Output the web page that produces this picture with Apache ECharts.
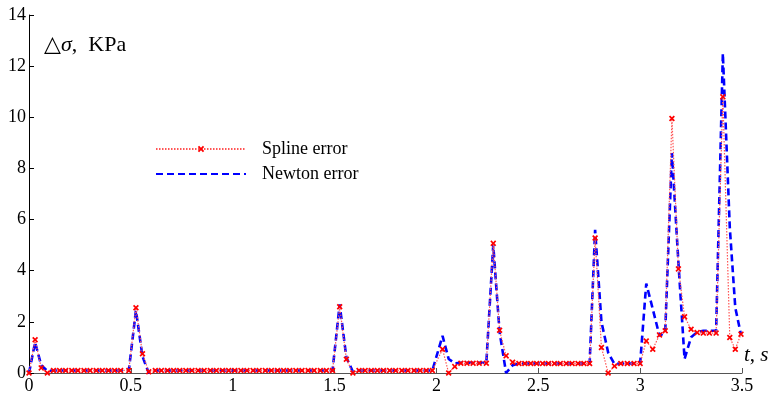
<!doctype html>
<html lang="en">
<head>
<meta charset="UTF-8">
<title>Spline vs Newton error</title>
<style>
  html, body { margin: 0; padding: 0; background: #fff; }
  #chart { width: 774px; height: 398px; }
</style>
</head>
<body>
<div id="chart"></div>
<script src="https://cdn.jsdelivr.net/npm/echarts@6/dist/echarts.min.js"></script>
<script>
// time samples, s (one line per stretch of the curve)
var T = [
  0, 0.03, 0.06, 0.09,
  0.12, 0.15, 0.18, 0.21, 0.24, 0.27, 0.30, 0.33, 0.36, 0.39, 0.42, 0.45,
  0.49, 0.525, 0.557, 0.588,
  0.62, 0.65, 0.68, 0.71, 0.74, 0.77, 0.80, 0.83, 0.86, 0.89, 0.92, 0.95, 0.98, 1.01, 1.04,
  1.07, 1.10, 1.13, 1.16, 1.19, 1.22, 1.25, 1.28, 1.31, 1.34, 1.37, 1.40, 1.43, 1.46,
  1.49, 1.525, 1.558, 1.59,
  1.62, 1.65, 1.68, 1.71, 1.74, 1.77, 1.80, 1.83, 1.86, 1.89, 1.92, 1.95, 1.98,
  2.03, 2.06, 2.09, 2.12, 2.15, 2.18, 2.21, 2.245,
  2.279, 2.31, 2.342, 2.374,
  2.405, 2.434, 2.463, 2.492, 2.521, 2.55, 2.579, 2.608, 2.637, 2.666, 2.695, 2.724, 2.752,
  2.779, 2.81, 2.843, 2.874, 2.905, 2.937, 2.97, 3.0,
  3.03, 3.062, 3.095, 3.123, 3.156, 3.188, 3.218, 3.25, 3.28, 3.31, 3.34, 3.373, 3.406, 3.44, 3.467, 3.495
];

// spline error, KPa
var splineErr = [
  0, 1.3, 0.2, 0,
  0.1, 0.1, 0.1, 0.1, 0.1, 0.1, 0.1, 0.1, 0.1, 0.1, 0.1, 0.1,
  0.1, 2.55, 0.75, 0.05,
  0.1, 0.1, 0.1, 0.1, 0.1, 0.1, 0.1, 0.1, 0.1, 0.1, 0.1, 0.1, 0.1, 0.1, 0.1,
  0.1, 0.1, 0.1, 0.1, 0.1, 0.1, 0.1, 0.1, 0.1, 0.1, 0.1, 0.1, 0.1, 0.1,
  0.1, 2.59, 0.54, 0,
  0.1, 0.1, 0.1, 0.1, 0.1, 0.1, 0.1, 0.1, 0.1, 0.1, 0.1, 0.1, 0.1,
  0.93, 0, 0.25, 0.38, 0.38, 0.38, 0.38, 0.38,
  5.07, 1.67, 0.67, 0.42,
  0.37, 0.37, 0.37, 0.37, 0.37, 0.37, 0.37, 0.37, 0.37, 0.37, 0.37, 0.37, 0.37,
  5.28, 1.0, 0, 0.27, 0.37, 0.37, 0.37, 0.37,
  1.25, 0.93, 1.49, 1.65, 9.95, 4.07, 2.2, 1.71, 1.58, 1.56, 1.56, 1.56, 10.8, 1.39, 0.93, 1.52
];

// Newton error, KPa
var newtonErr = [
  0, 1.2, 0.3, 0.08,
  0.1, 0.1, 0.1, 0.1, 0.1, 0.1, 0.1, 0.1, 0.1, 0.1, 0.1, 0.1,
  0.1, 2.45, 0.65, 0,
  0.1, 0.1, 0.1, 0.1, 0.1, 0.1, 0.1, 0.1, 0.1, 0.1, 0.1, 0.1, 0.1, 0.1, 0.1,
  0.1, 0.1, 0.1, 0.1, 0.1, 0.1, 0.1, 0.1, 0.1, 0.1, 0.1, 0.1, 0.1, 0.1,
  0.1, 2.68, 0.6, 0.05,
  0.1, 0.1, 0.1, 0.1, 0.1, 0.1, 0.1, 0.1, 0.1, 0.1, 0.1, 0.1, 0.1,
  1.45, 0.55, 0.38, 0.4, 0.4, 0.4, 0.4, 0.4,
  5.0, 1.6, 0, 0.3,
  0.37, 0.37, 0.37, 0.37, 0.37, 0.37, 0.37, 0.37, 0.37, 0.37, 0.37, 0.37, 0.37,
  5.6, 2.0, 0.8, 0.35, 0.37, 0.37, 0.37, 0.37,
  3.5, 2.5, 1.45, 1.6, 8.6, 4.3, 0.55, 1.4, 1.6, 1.65, 1.65, 1.65, 12.5, 5.7, 2.56, 1.5
];

var seriesNames = ['Spline error', 'Newton error'];

function pairs(xs, ys) {
  var out = [];
  for (var i = 0; i < xs.length; i++) out.push([xs[i], ys[i]]);
  return out;
}

var serif = '"Liberation Serif", "DejaVu Serif", serif';
// filled "x" marker
var crossMark = 'path://M0,2L2,0L5,3L8,0L10,2L7,5L10,8L8,10L5,7L2,10L0,8L3,5Z';

var chart = echarts.init(document.getElementById('chart'));
chart.setOption({
  animation: false,
  backgroundColor: '#fff',
  grid: { left: 29, right: 32, top: 15, bottom: 25 },
  legend: {
    orient: 'vertical',
    left: 150,
    top: 135,
    itemWidth: 90,
    itemHeight: 8,
    itemGap: 7,
    data: [
      { name: seriesNames[0] },
      // dashed line only, no marker
      { name: seriesNames[1], itemStyle: { opacity: 0, color: 'rgba(0,0,0,0)', borderWidth: 0 } }
    ],
    textStyle: { fontFamily: serif, fontSize: 18, color: '#000', padding: [0, 0, 0, 11], lineHeight: 18 }
  },
  xAxis: {
    type: 'value',
    min: 0, max: 3.5, interval: 0.5,
    splitLine: { show: false },
    axisLine: { onZero: false, lineStyle: { color: '#555', width: 1 } },
    axisTick: { inside: true, length: 5, lineStyle: { color: '#555' } },
    axisLabel: { fontFamily: serif, fontSize: 18, color: '#000', margin: 4 }
  },
  yAxis: {
    type: 'value',
    min: 0, max: 14, interval: 2,
    splitLine: { show: false },
    axisLine: { show: true, lineStyle: { color: '#000', width: 1 } },
    axisTick: { show: true, inside: true, length: 5, lineStyle: { color: '#000' } },
    axisLabel: { fontFamily: serif, fontSize: 18, color: '#000', margin: 3 }
  },
  graphic: [
    {
      type: 'text', left: 44, top: 34,
      style: {
        text: '{a|△}{b|σ}{a|,  KPa}',
        rich: {
          a: { fontFamily: serif, fontSize: 22, fill: '#000' },
          b: { fontFamily: serif, fontSize: 22, fontStyle: 'italic', fill: '#000' }
        }
      }
    },
    {
      type: 'text', left: 744, top: 345,
      style: {
        text: '{b|t}{a|, }{b|s}',
        rich: {
          a: { fontFamily: serif, fontSize: 21, fill: '#000' },
          b: { fontFamily: serif, fontSize: 21, fontStyle: 'italic', fill: '#000' }
        }
      }
    }
  ],
  series: [
    {
      name: seriesNames[1],
      type: 'line',
      data: pairs(T, newtonErr),
      showSymbol: false,
      symbol: 'none',
      z: 2,
      lineStyle: { color: '#0000ff', width: 2.6, type: [7, 4] },
      itemStyle: { color: '#0000ff' }
    },
    {
      name: seriesNames[0],
      type: 'line',
      data: pairs(T, splineErr),
      symbol: crossMark,
      symbolSize: 6,
      z: 3,
      lineStyle: { color: '#ff5555', width: 1.2, type: [1.5, 1.5] },
      itemStyle: { color: '#ff0000' }
    }
  ]
});
</script>
</body>
</html>
